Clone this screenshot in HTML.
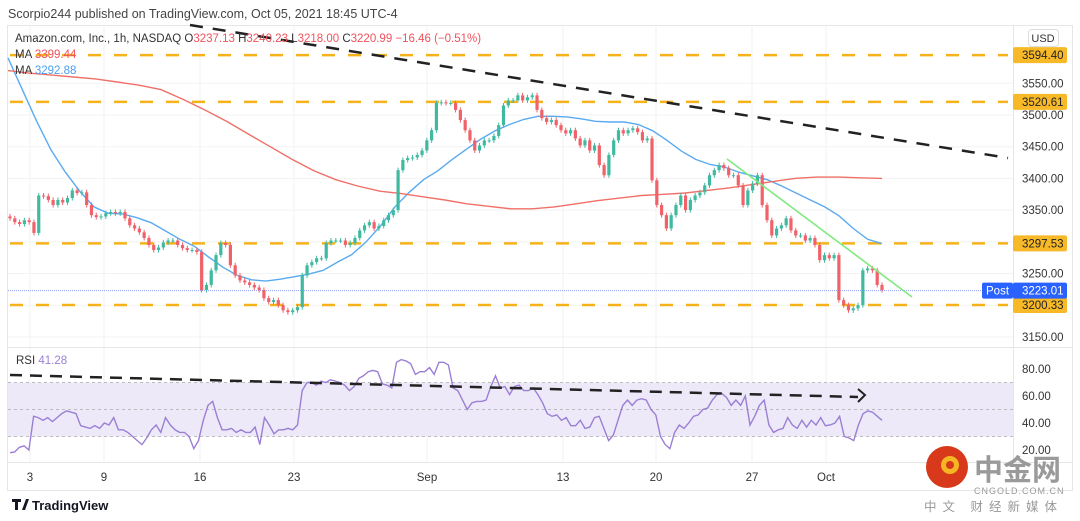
<!DOCTYPE html>
<html><head><meta charset="utf-8">
<style>
body{margin:0;background:#fff;font-family:"Liberation Sans","Noto Sans CJK SC",sans-serif;}
#wrap{position:relative;width:1080px;height:521px;overflow:hidden;background:#fff}
svg text{font-family:"Liberation Sans","Noto Sans CJK SC",sans-serif}
</style></head><body>
<div id="wrap">
<svg id="svg" width="1080" height="521" xmlns="http://www.w3.org/2000/svg"></svg>
</div>
<script>
const closes=[3337,3331,3328,3334,3331,3314,3373,3372,3366,3358,3366,3362,3369,3381,3377,3378,3358,3342,3339,3340,3345,3347,3345,3347,3337,3326,3321,3315,3306,3295,3287,3291,3299,3302,3302,3295,3290,3287,3287,3284,3224,3232,3255,3279,3298,3295,3263,3247,3239,3236,3232,3228,3224,3211,3205,3208,3200,3192,3189,3192,3197,3247,3263,3268,3274,3274,3298,3302,3302,3302,3295,3298,3306,3318,3326,3331,3321,3325,3334,3342,3350,3413,3429,3432,3433,3437,3444,3460,3476,3519,3520,3519,3519,3508,3492,3476,3460,3444,3452,3460,3460,3467,3484,3515,3523,3523,3531,3523,3528,3531,3508,3495,3489,3492,3484,3476,3471,3476,3463,3452,3460,3444,3452,3421,3405,3437,3460,3476,3471,3476,3479,3473,3460,3463,3397,3358,3342,3321,3342,3358,3373,3350,3366,3373,3378,3389,3405,3413,3421,3416,3405,3405,3389,3358,3381,3392,3405,3358,3334,3310,3321,3326,3337,3318,3310,3310,3302,3306,3295,3271,3279,3274,3279,3208,3200,3192,3195,3200,3255,3258,3255,3232,3224];
const maFast=[3590,3540,3490,3445,3410,3380,3355,3345,3344,3338,3330,3317,3304,3293,3276,3260,3247,3240,3238,3241,3245,3249,3255,3268,3280,3300,3325,3355,3378,3398,3412,3430,3446,3462,3475,3485,3493,3498,3498,3497,3494,3490,3489,3489,3485,3475,3460,3443,3430,3422,3418,3410,3404,3398,3388,3377,3366,3355,3341,3321,3304,3297];
const maSlow=[3570,3566,3563,3560,3557,3552,3547,3540,3525,3508,3490,3470,3450,3430,3412,3398,3388,3380,3376,3371,3366,3360,3356,3352,3352,3355,3360,3365,3369,3373,3375,3377,3381,3385,3390,3395,3400,3402,3402,3401,3400];
const rsi=[18,18.5,22,23,20,45,44,42,44,41,44,47,49,48,47,38,37,36,38,36,40,38.5,44,35,35,33,30,27,24,29,35,38.5,33,44,38.5,35,33,33,30,21,27,42,53,56,44,35,35,36,33,35,33,33,37,24,44,38.5,32,35,35,36,35,38.5,64,70,70,68,71,70,72,71,70,68,64,67,73,75,78,79,78,69,68,66,85,87,86,84,76,78,78,81,76,85,85,83,66,64,57,50,55,56,56,57,67,75,66,67,61,67,68,64,64,66,61,55,47,45,46,42,44,38,38,42,36,37,44,45,36,27,31,42,53,57,53,57,58,57,50,46,30,24,21,33,38.5,36,40,45,46,50,51,57,61,62,59,53,57,53,60,38.5,45,53,57,38.5,33,35,36,44,38.5,36,42,37,42,38.5,44,38,38.5,40,45,30,29,27,38.5,47,49,48,45,42];
const levels=[3594.40,3520.61,3297.53,3200.33];
const priceTicks=[3550,3500,3450,3400,3350,3250,3150];
const rsiTicks=[80,60,40,20];
const dateLabels=["3","9","16","23","Sep","13","20","27","Oct"];
const dateX=[30,104,200,294,427,563,656,752,826];

const NS="http://www.w3.org/2000/svg";
const svg=document.getElementById('svg');
function el(tag,attrs,parent){const e=document.createElementNS(NS,tag);for(const k in attrs)e.setAttribute(k,attrs[k]);(parent||svg).appendChild(e);return e;}
const py=p=>115+(3500-p)*0.634;
const ry=r=>369+(80-r)*1.35;
const X0=10,X1=882;
const bx=i=>X0+i*(X1-X0)/(closes.length-1);

let t=el('text',{x:8,y:18,'font-size':12.5,fill:'#444'});t.textContent='Scorpio244 published on TradingView.com, Oct 05, 2021 18:45 UTC-4';

let fr=el('rect',{x:7.5,y:25.5,width:1065,height:465,fill:'none',stroke:'#e6e6e6'});

const grid=el('g',{});
dateX.forEach(x=>el('line',{x1:x,y1:26,x2:x,y2:462,stroke:'#f2f2f2'},grid));
priceTicks.concat([3300,3200]).forEach(p=>el('line',{x1:8,y1:py(p),x2:1013,y2:py(p),stroke:'#f3f3f3'},grid));
el('line',{x1:1013.5,y1:26,x2:1013.5,y2:462,stroke:'#e6e6e6'});
el('line',{x1:8,y1:347.5,x2:1072,y2:347.5,stroke:'#e6e6e6'});
el('line',{x1:8,y1:462.5,x2:1072,y2:462.5,stroke:'#e6e6e6'});
let band=el('rect',{x:8,y:ry(70),width:1005,height:ry(30)-ry(70),fill:'#ede9f8'});

[70,50,30].forEach(r=>el('line',{x1:8,y1:ry(r),x2:1013,y2:ry(r),stroke:'#aaa','stroke-dasharray':'3,3','stroke-width':0.8}));
levels.forEach((p,i)=>{const l=el('line',{x1:10,y1:py(p),x2:1008,y2:py(p),stroke:'#f5b21b','stroke-width':2.5,'stroke-dasharray':'13,13'});
});
el('line',{x1:8,y1:py(3223.01),x2:1013,y2:py(3223.01),stroke:'#8c9cf0','stroke-width':1,'stroke-dasharray':'1,1'});
function maPath(arr,col,name){const n=arr.length;let d='';arr.forEach((v,i)=>{const x=X0-2+i*(X1-X0+2)/(n-1);d+=(i?'L':'M')+x.toFixed(1)+','+py(v).toFixed(1);});
const p=el('path',{d:d,fill:'none',stroke:col,'stroke-width':1.4});}
maPath(maFast,'#5aaaf0','ma-fast-line');
maPath(maSlow,'#f07068','ma-slow-line');
const cg=el('g',{});
closes.forEach((c,i)=>{const o=i?closes[i-1]:c+3;const up=c>=o;const col=up?'#3fb9a0':'#f0616a';const x=bx(i);
const hi=Math.max(o,c)+4,lo=Math.min(o,c)-4;
el('line',{x1:x,y1:py(hi),x2:x,y2:py(lo),stroke:col,'stroke-width':1},cg);
const y1=py(Math.max(o,c)),y2=py(Math.min(o,c));
const r=el('rect',{x:x-1.6,y:y1,width:3.2,height:Math.max(1,y2-y1),fill:col},cg);
});
let tl=el('line',{x1:190,y1:25,x2:1008,y2:158,stroke:'#222','stroke-width':2.5,'stroke-dasharray':'13,10'});

let gl=el('line',{x1:727,y1:159,x2:912,y2:297,stroke:'#80ea80','stroke-width':1.6});

let d='';rsi.forEach((r,i)=>{const x=X0+i*(X1-X0)/(rsi.length-1);d+=(i?'L':'M')+x.toFixed(1)+','+ry(r).toFixed(1);});
let rl=el('path',{d:d,fill:'none',stroke:'#9b7fd4','stroke-width':1.4});

let rt=el('line',{x1:10,y1:375,x2:858,y2:397,stroke:'#222','stroke-width':2.5,'stroke-dasharray':'12,8'});

el('path',{d:'M858,389 L865,395 L858,402',fill:'none',stroke:'#222','stroke-width':2});
const lg=el('text',{x:15,y:42,'font-size':11.5,fill:'#333'});
lg.innerHTML='Amazon.com, Inc., 1h, NASDAQ  O<tspan fill="#f0525c">3237.13</tspan>  H<tspan fill="#f0525c">3240.23</tspan>  L<tspan fill="#f0525c">3218.00</tspan>  C<tspan fill="#f0525c">3220.99</tspan>  <tspan fill="#f0525c">−16.46 (−0.51%)</tspan>';
lg.setAttribute('xml:space','preserve');
let m1=el('text',{x:15,y:58,'font-size':11.5,fill:'#333'});m1.innerHTML='MA <tspan fill="#f0525c">3399.44</tspan>';

let m2=el('text',{x:15,y:74,'font-size':11.5,fill:'#333'});m2.innerHTML='MA <tspan fill="#4aa0f0">3292.88</tspan>';

let rlab=el('text',{x:16,y:364,'font-size':11.5,fill:'#333'});rlab.innerHTML='RSI <tspan fill="#9b7fd4">41.28</tspan>';

let ub=el('rect',{x:1028.5,y:29.5,width:30,height:17,rx:3,fill:'#fff',stroke:'#ddd'});
let ut=el('text',{x:1043,y:42,'font-size':11,fill:'#333','text-anchor':'middle'});ut.textContent='USD';
priceTicks.forEach(p=>{const tx=el('text',{x:1022,y:py(p)+4,'font-size':11.5,fill:'#333'});tx.textContent=p.toFixed(2);
});
rsiTicks.forEach(r=>{const tx=el('text',{x:1022,y:ry(r)+4,'font-size':11.5,fill:'#333'});tx.textContent=r.toFixed(2);
});
levels.forEach(p=>{const y=py(p);el('rect',{x:1013,y:y-8,width:54,height:16,rx:2,fill:'#f7b928'});
const tx=el('text',{x:1022,y:y+4,'font-size':11.5,fill:'#222'});tx.textContent=p.toFixed(2);
});
const yp=py(3223.01);
el('rect',{x:982,y:yp-8,width:31,height:16,rx:2,fill:'#2962ff'});
el('rect',{x:1013,y:yp-8,width:54,height:16,rx:2,fill:'#2962ff'});
let pt=el('text',{x:986,y:yp+4,'font-size':11.5,fill:'#fff'});pt.textContent='Post';
let pv=el('text',{x:1022,y:yp+4,'font-size':11.5,fill:'#fff'});pv.textContent='3223.01';
dateLabels.forEach((s,i)=>{const tx=el('text',{x:dateX[i],y:481,'font-size':11.5,fill:'#333','text-anchor':'middle'});tx.textContent=s;
});
let lgp=el('g',{});
el('path',{d:'M12,499 h9 v3 h-3 v8 h-3 v-8 h-3z M22,510 l4,-11 h3 l-4,11z',fill:'#131722'},lgp);
let tv=el('text',{x:32,y:510,'font-size':13,fill:'#131722','font-weight':'bold'},lgp);tv.textContent='TradingView';
let wm=el('g',{});
el('circle',{cx:947,cy:467,r:21,fill:'#d8391b'},wm);
el('circle',{cx:950,cy:465,r:9,fill:'#f6b624'},wm);
el('circle',{cx:950,cy:465,r:4,fill:'#d8391b'},wm);
let w1=el('text',{x:974,y:480,'font-size':29,fill:'#9a9a9a','font-weight':'bold'},wm);w1.textContent='中金网';
let w2=el('text',{x:974,y:494,'font-size':9,fill:'#999','letter-spacing':'1'},wm);w2.textContent='CNGOLD.COM.CN';
let w3=el('text',{x:924,y:511,'font-size':12.5,fill:'#999','letter-spacing':'6'},wm);w3.textContent='中文 财经新媒体';
</script>
</body></html>
